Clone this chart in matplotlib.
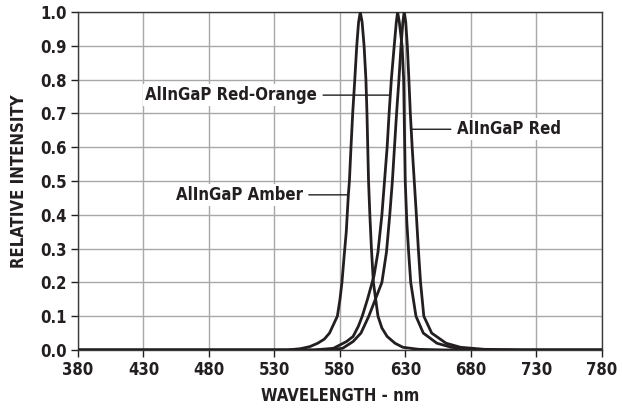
import matplotlib
matplotlib.use("Agg")
import matplotlib.pyplot as plt

# Spectra (wavelength nm, relative intensity)
amber_nm = [380, 540, 550, 557, 563, 568, 572, 575, 578, 580, 581.5, 583, 584.8, 586.4, 587.2,
            588.4, 589.7, 591.3, 592.8, 594.2, 595.5, 596.9, 598.4, 599.8, 600.6, 601.2, 601.8,
            602.8, 604, 605.5, 609, 612, 616, 622, 628, 640, 660, 780]
amber_i = [0, 0, 0.004, 0.01, 0.02, 0.032, 0.05, 0.075, 0.1, 0.15, 0.2, 0.27, 0.35, 0.46, 0.5,
           0.6, 0.7, 0.8, 0.9, 0.97, 1.0, 0.97, 0.9, 0.8, 0.7, 0.6, 0.5,
           0.4, 0.3, 0.2, 0.1, 0.065, 0.04, 0.02, 0.008, 0.002, 0, 0]

ro_nm = [380, 560, 575, 585, 590, 594, 597, 601, 606, 609, 612, 614, 616, 617.5, 619.2,
         621.4, 623, 624, 625.3, 627.4, 628.6, 629.2, 629.8, 631, 632.4, 634, 638, 643.6,
         654, 665, 680, 700, 780]
ro_i = [0, 0, 0.005, 0.025, 0.04, 0.07, 0.1, 0.15, 0.22, 0.29, 0.4, 0.5, 0.6, 0.7, 0.8,
        0.9, 0.97, 1.0, 0.97, 0.9, 0.8, 0.65, 0.5, 0.38, 0.29, 0.2, 0.1, 0.05,
        0.02, 0.008, 0.002, 0, 0]

red_nm = [380, 570, 582, 590, 596, 602, 607, 612, 615.5, 618, 620, 621.6, 623.2, 625,
          626.6, 628, 629, 630.2, 631.4, 632.6, 633.7, 635.1, 636.7, 638.3, 639.8, 641.5, 644,
          650, 661, 672, 690, 720, 780]
red_i = [0, 0, 0.005, 0.025, 0.05, 0.1, 0.15, 0.2, 0.29, 0.4, 0.5, 0.6, 0.7, 0.8,
         0.9, 0.97, 1.0, 0.97, 0.9, 0.8, 0.7, 0.6, 0.5, 0.4, 0.3, 0.2, 0.1,
         0.05, 0.02, 0.008, 0.002, 0, 0]

x_ticks = [380, 430, 480, 530, 580, 630, 680, 730, 780]
y_ticks = [0.0, 0.1, 0.2, 0.3, 0.4, 0.5, 0.6, 0.7, 0.8, 0.9, 1.0]

ink = "#231f20"
plt.rcParams["font.family"] = ["DejaVu Sans"]
plt.rcParams["font.stretch"] = "condensed"
plt.rcParams["font.weight"] = "bold"

fig = plt.figure(figsize=(6.22, 4.19), dpi=100)
ax = fig.add_axes([0.1254, 0.1647, 0.8424, 0.8067])

for nm, inten in [(amber_nm, amber_i), (ro_nm, ro_i), (red_nm, red_i)]:
    ax.plot(nm, inten, color=ink, lw=2.0, solid_joinstyle="round", zorder=3)

ax.set_xlim(380, 780)
ax.set_ylim(0, 1.0)
ax.set_xticks(x_ticks)
ax.set_yticks(y_ticks)
ax.set_yticklabels([f"{v:.1f}" for v in y_ticks])
ax.grid(True, color="#a8a8a8", lw=1.0)
ax.set_axisbelow(True)
ax.tick_params(direction="out", length=5, width=1, colors=ink, labelsize=12, pad=3)
for s in ax.spines.values():
    s.set_color("#3a3a3a")
    s.set_linewidth(1.0)

ax.set_xlabel("WAVELENGTH - nm", fontsize=12, fontweight="bold", color=ink, labelpad=6)
ax.set_ylabel("RELATIVE INTENSITY", fontsize=12, fontweight="bold", color=ink, labelpad=9)

box = dict(facecolor="white", edgecolor="none", pad=1.5)
line = dict(arrowstyle="-", color=ink, lw=1.0, shrinkA=3, shrinkB=0)
ax.annotate("AlInGaP Red-Orange", xy=(618.2, 0.754), xytext=(562.4, 0.754),
            ha="right", va="center", fontsize=12, color=ink, bbox=box, arrowprops=line)
ax.annotate("AlInGaP Amber", xy=(586.1, 0.459), xytext=(551.5, 0.459),
            ha="right", va="center", fontsize=12, color=ink, bbox=box, arrowprops=line)
ax.annotate("AlInGaP Red", xy=(634.5, 0.653), xytext=(669.3, 0.653),
            ha="left", va="center", fontsize=12, color=ink, bbox=box, arrowprops=line)

fig.savefig("out.png", dpi=100)
